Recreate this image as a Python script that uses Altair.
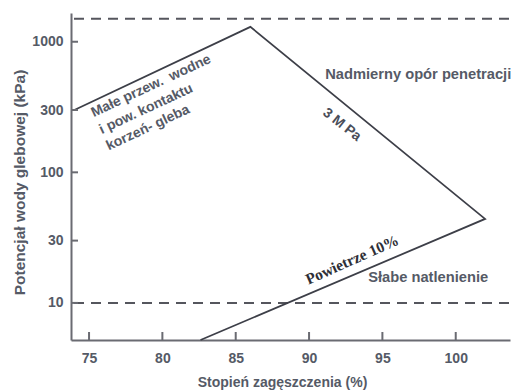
import altair as alt
import pandas as pd

# Boundary of the favourable zone (compaction %, soil water potential kPa)
boundary_x = [74.0, 86.0, 102.0, 82.6]
boundary_y = [300, 1300, 44, 5.2]

# Dashed threshold lines (kPa)
threshold_y = [1500, 10]

# Axis ticks
x_ticks = [75, 80, 85, 90, 95, 100]
y_ticks = [10, 30, 100, 300, 1000]

# Annotation texts, anchored in data coordinates
zone_lines = ["Małe przew.\u00a0 wodne", "i pow. kontaktu", "korzeń- gleba"]
zone_x = [79.23, 78.89, 79.02]
zone_y = [458, 305, 219]

region_labels = ["Nadmierny opór penetracji", "Słabe natlenienie"]
region_x = [91.1, 94.03]
region_y = [556, 15.5]

mpa_label = "3 M Pa"
mpa_x, mpa_y = 92.24, 231
air_label = "Powietrze 10%"
air_x, air_y = 92.94, 21.4

X_DOMAIN = [73.77, 103.7]
Y_DOMAIN = [5.2, 1660]

TEXT = "#555a66"
AXIS = "#6a6b72"
LINE = "#3d3f48"
FONT = "Liberation Sans"

xs = alt.Scale(domain=X_DOMAIN, nice=False, zero=False)
ys = alt.Scale(type="log", domain=Y_DOMAIN, nice=False)

boundary = pd.DataFrame({"x": boundary_x, "y": boundary_y, "o": range(len(boundary_x))})

base_axis_x = alt.Axis(
    values=x_ticks, tickSize=0, labelPadding=11, labelFontSize=14, labelFont=FONT,
    labelFontWeight="bold", format="d",
    labelColor=TEXT, domainColor=AXIS, domainWidth=2, grid=False,
    title="Stopień zagęszczenia (%)", titleFont=FONT, titleFontSize=14,
    titleFontWeight="bold", titleColor=TEXT, titleY=42, titleBaseline="middle",
    titleX=211,
)
base_axis_y = alt.Axis(
    values=y_ticks, tickSize=0, labelPadding=8, labelFontSize=14, labelFont=FONT,
    labelFontWeight="bold", format="d",
    labelColor=TEXT, domainColor=AXIS, domainWidth=2, grid=False,
    title="Potencjał wody glebowej (kPa)", titleFont=FONT, titleFontSize=15.5,
    titleFontWeight="bold", titleColor=TEXT, titleX=-52, titleY=169,
    titleBaseline="middle", titleAngle=270, labelFlush=False,
)

line = alt.Chart(boundary).mark_line(color=LINE, strokeWidth=1.8).encode(
    x=alt.X("x:Q", scale=xs, axis=base_axis_x),
    y=alt.Y("y:Q", scale=ys, axis=base_axis_y),
    order="o:O",
)

dashes = alt.Chart(pd.DataFrame({"y": threshold_y})).mark_rule(
    color="#55565d", strokeWidth=2, strokeDash=[10, 7]
).encode(y=alt.Y("y:Q", scale=ys), x=alt.value(3), x2=alt.value(439))

xt = alt.Chart(pd.DataFrame({"x": x_ticks})).mark_rule(color=AXIS, strokeWidth=2).encode(
    x=alt.X("x:Q", scale=xs), y=alt.value(319), y2=alt.value(327)
)
yt = alt.Chart(pd.DataFrame({"y": y_ticks})).mark_rule(color=AXIS, strokeWidth=2).encode(
    y=alt.Y("y:Q", scale=ys), x=alt.value(0), x2=alt.value(7)
)

zone = alt.Chart(pd.DataFrame({"t": zone_lines, "x": zone_x, "y": zone_y})).mark_text(
    font=FONT, fontSize=14, fontWeight="bold", color=TEXT, angle=335,
    align="center", baseline="middle"
).encode(x=alt.X("x:Q", scale=xs), y=alt.Y("y:Q", scale=ys), text="t:N")

regions = alt.Chart(pd.DataFrame({"t": region_labels, "x": region_x, "y": region_y})).mark_text(
    font=FONT, fontSize=14.7, fontWeight="bold", color=TEXT, align="left", baseline="middle"
).encode(x=alt.X("x:Q", scale=xs), y=alt.Y("y:Q", scale=ys), text="t:N")

mpa = alt.Chart(pd.DataFrame({"t": [mpa_label], "x": [mpa_x], "y": [mpa_y]})).mark_text(
    font=FONT, fontSize=14, fontWeight="bold", color="#4a4d58", angle=38,
    align="center", baseline="middle"
).encode(x=alt.X("x:Q", scale=xs), y=alt.Y("y:Q", scale=ys), text="t:N")

air = alt.Chart(pd.DataFrame({"t": [air_label], "x": [air_x], "y": [air_y]})).mark_text(
    font="Liberation Serif", fontSize=15.5, fontWeight="bold", color="#2e2f36",
    angle=336, align="center", baseline="middle"
).encode(x=alt.X("x:Q", scale=xs), y=alt.Y("y:Q", scale=ys), text="t:N")

chart = alt.layer(dashes, line, xt, yt, zone, regions, mpa, air).properties(
    width=439, height=327,
    padding={"left": 71, "top": 13, "right": 4, "bottom": 50},
    autosize=alt.AutoSizeParams(type="none"),
    background="white",
).configure_view(stroke=None)

chart.save("out.html", embed_options={"renderer": "svg", "actions": False})
